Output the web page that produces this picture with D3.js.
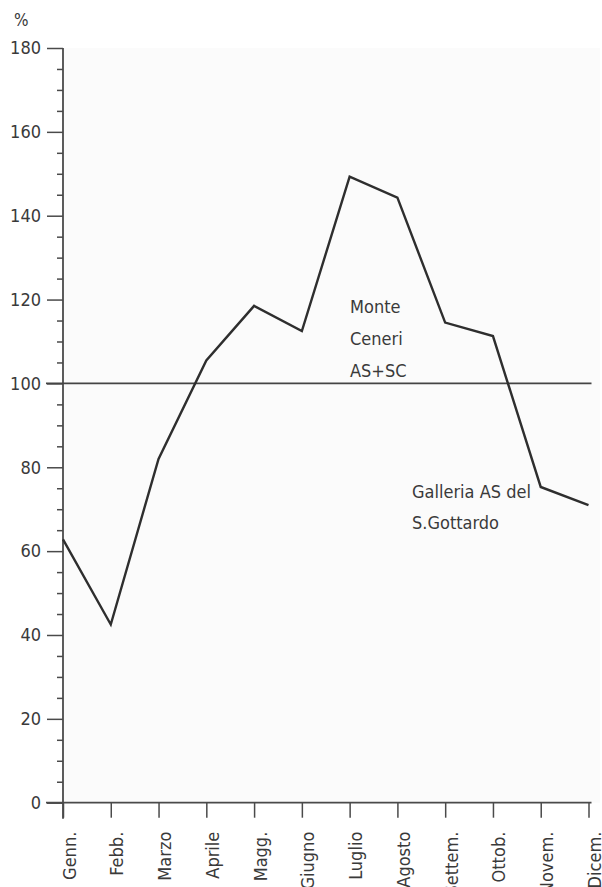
<!DOCTYPE html>
<html>
<head>
<meta charset="utf-8">
<script src="https://cdn.jsdelivr.net/npm/d3@7"></script>
<style>
  html, body { margin: 0; padding: 0; background: #fff; }
  svg { display: block; }
  text { font-family: "Liberation Sans Narrow", "DejaVu Sans Condensed", "Liberation Sans", sans-serif; fill: #3a3a3a; }
</style>
</head>
<body>
<svg id="chart" width="602" height="887"></svg>
<script>
const months = ["Genn.", "Febb.", "Marzo", "Aprile", "Magg.", "Giugno", "Luglio", "Agosto", "Settem.", "Ottob.", "Novem.", "Dicem."];
const values = [62.8, 42.5, 82, 105.5, 118.5, 112.5, 149.3, 144.3, 114.5, 111.3, 75.3, 71];
const yTicks = [0, 20, 40, 60, 80, 100, 120, 140, 160, 180];
const referenceValue = 100;
const yUnit = "%";
const labelMonteCeneri = ["Monte", "Ceneri", "AS+SC"];
const labelGottardo = ["Galleria AS del", "S.Gottardo"];

const svg = d3.select("#chart");
const x = d3.scalePoint().domain(months).range([63, 588.5]);
const y = d3.scaleLinear().domain([0, 180]).range([802.7, 48]);

const axisColor = "#4a4a4a";

// plot background
svg.append("rect")
  .attr("x", x(months[0])).attr("y", y(180))
  .attr("width", 600 - x(months[0])).attr("height", y(0) - y(180))
  .attr("fill", "#fbfbfb");

// minor y ticks
const minor = d3.range(0, 181, 5).filter(v => v % 20 !== 0);
const gMinor = svg.append("g").attr("transform", `translate(${x(months[0])},0)`)
  .call(d3.axisLeft(y).tickValues(minor).tickSize(6).tickFormat(""));
gMinor.select(".domain").remove();
gMinor.selectAll("line").attr("stroke", axisColor).attr("stroke-width", 1.5);

// major y ticks
const gY = svg.append("g").attr("transform", `translate(${x(months[0])},0)`)
  .call(d3.axisLeft(y).tickValues(yTicks).tickSize(16).tickPadding(6));
gY.select(".domain").remove();
gY.selectAll("line").attr("stroke", axisColor).attr("stroke-width", 1.5);
gY.selectAll("text").attr("font-size", 18).attr("fill", "#3a3a3a")
  .style("font-family", "'Liberation Sans Narrow', 'DejaVu Sans Condensed', sans-serif");

// y axis line (extends below zero)
svg.append("line")
  .attr("x1", x(months[0])).attr("x2", x(months[0]))
  .attr("y1", y(180)).attr("y2", y(0) + 16)
  .attr("stroke", axisColor).attr("stroke-width", 1.8);

// unit label
svg.append("text").attr("x", 14).attr("y", 26).attr("font-size", 17).text(yUnit);

// x axis ticks
const gX = svg.append("g").attr("transform", `translate(0,${y(0)})`)
  .call(d3.axisBottom(x).tickSize(15).tickFormat(""));
gX.select(".domain").remove();
gX.selectAll("line").attr("stroke", axisColor).attr("stroke-width", 1.5);

// x axis line
svg.append("line")
  .attr("x1", x(months[0]) - 17).attr("x2", x(months[months.length - 1]) + 3)
  .attr("y1", y(0)).attr("y2", y(0))
  .attr("stroke", axisColor).attr("stroke-width", 1.8);

// month labels
svg.append("g").selectAll("text").data(months).join("text")
  .attr("transform", d => `translate(${x(d) + 6},${y(0) + 29}) rotate(-90)`)
  .attr("text-anchor", "end")
  .attr("dominant-baseline", "central")
  .attr("font-size", 18)
  .text(d => d);

// reference line at 100
svg.append("line")
  .attr("x1", x(months[0]) - 17).attr("x2", x(months[months.length - 1]) + 3)
  .attr("y1", y(referenceValue)).attr("y2", y(referenceValue))
  .attr("stroke", "#444").attr("stroke-width", 1.6);

// data line
svg.append("path")
  .datum(values)
  .attr("fill", "none")
  .attr("stroke", "#2e2e2e")
  .attr("stroke-width", 2.4)
  .attr("stroke-linejoin", "miter")
  .attr("d", d3.line().x((d, i) => x(months[i])).y(d => y(d)));

// annotations
const ann1 = svg.append("text").attr("font-size", 18);
labelMonteCeneri.forEach((t, i) => ann1.append("tspan").attr("x", 350).attr("y", 313 + i * 32).text(t));
const ann2 = svg.append("text").attr("font-size", 18);
labelGottardo.forEach((t, i) => ann2.append("tspan").attr("x", 412).attr("y", 498 + i * 31).text(t));
</script>
</body>
</html>
